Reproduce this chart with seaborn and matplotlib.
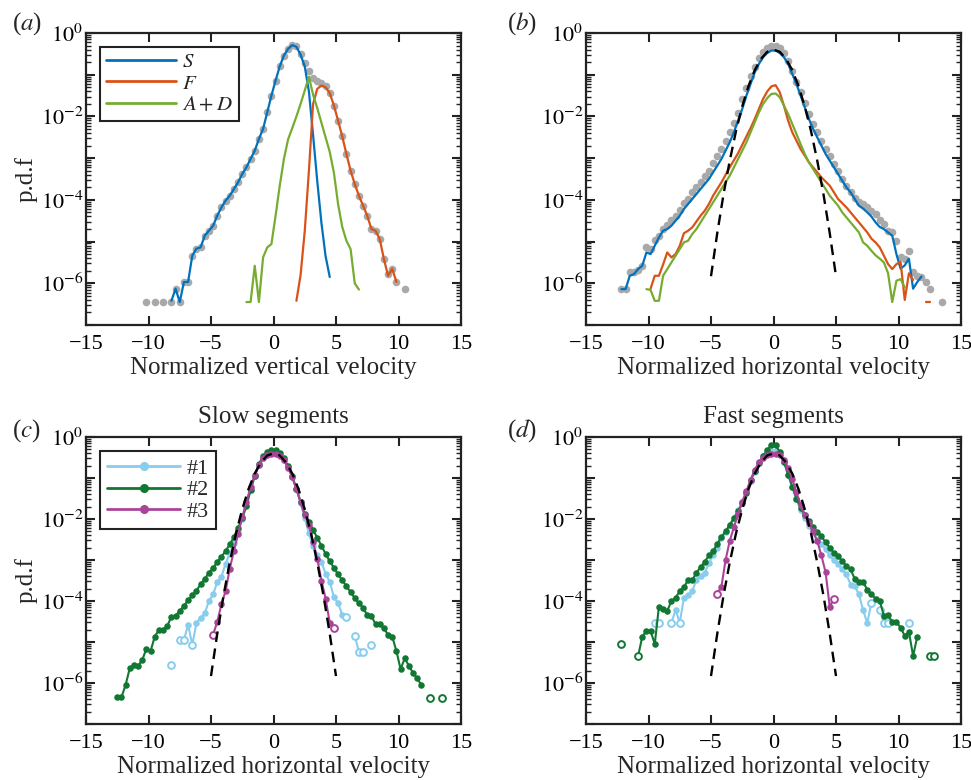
import numpy as np
import pandas as pd
import matplotlib
matplotlib.use("Agg")
import matplotlib.pyplot as plt
from matplotlib.lines import Line2D
from matplotlib.ticker import FixedLocator, FuncFormatter, LogLocator, NullFormatter
import seaborn as sns

nan = np.nan

# Histogram bins: centre of bin k is BIN_FIRST + k * BIN_WIDTH
BIN_FIRST = -12.5
BIN_WIDTH = 1.0 / 3.0

# ---------- (a) vertical velocity, log10 of p.d.f ----------
a_total_start = 7
a_total = [-6.45, nan, -6.45, nan, -6.45, nan, -6.45, -6.13, -6.45, -5.97,
           -5.97, -5.34, -5.17, -5.14, -4.86, -4.74, -4.62, -4.38, -4.18, -4.02,
           -3.90, -3.74, -3.58, -3.38, -3.22, -3.02, -2.82, -2.54, -2.30, -1.90,
           -1.50, -1.14, -0.80, -0.54, -0.38, -0.28, -0.32, -0.50, -0.72, -0.92,
           -1.08, -1.16, -1.20, -1.26, -1.44, -1.74, -2.10, -2.48, -2.90, -3.30,
           -3.62, -3.90, -4.14, -4.38, -4.70, -4.74, -4.94, -5.42, -5.78, -5.65,
           -5.97, nan, -6.14]
a_slow_start = 13
a_slow = [-6.42, -6.13, -6.45, -5.97, -5.97, -5.34, -5.17, -5.14, -4.86, -4.74,
          -4.62, -4.38, -4.18, -4.02, -3.90, -3.74, -3.58, -3.38, -3.22, -3.02,
          -2.82, -2.54, -2.30, -1.90, -1.50, -1.14, -0.80, -0.54, -0.38, -0.29,
          -0.33, -0.52, -0.80, -1.40, -2.45, -3.55, -4.55, -5.35, -5.85]
a_fast_start = 43
a_fast = [-6.42, -5.80, -4.75, -3.30, -1.70, -1.34, -1.26, -1.30, -1.44, -1.74,
          -2.10, -2.48, -2.90, -3.30, -3.62, -3.90, -4.14, -4.38, -4.70, -4.74,
          -4.94, -5.42, -5.82, -5.65, -5.97]
a_ad_start = 31
a_ad = [-6.45, -6.45, -5.58, -6.45, -5.38, -5.14, -5.06, -4.38, -3.66, -3.02,
        -2.55, -2.28, -2.00, -1.70, -1.38, -1.05, -1.48, -1.80, -2.15, -2.50,
        -2.85, -3.35, -4.10, -4.65, -4.98, -5.18, -6.00, -6.15]

# ---------- (b) horizontal velocity ----------
b_total_start = 1
b_total = [-6.13, -6.13, -5.74, -5.73, -5.68, -5.58, -5.14, -5.17, -4.96, -4.86,
           -4.69, -4.61, -4.48, -4.38, -4.24, -4.08, -3.98, -3.82, -3.70, -3.58,
           -3.44, -3.30, -3.12, -2.94, -2.78, -2.58, -2.38, -2.16, -1.92, -1.58,
           -1.33, -1.04, -0.81, -0.61, -0.46, -0.37, -0.32, -0.32, -0.37, -0.48,
           -0.66, -0.90, -1.17, -1.41, -1.68, -1.94, -2.18, -2.38, -2.58, -2.78,
           -2.96, -3.14, -3.32, -3.50, -3.66, -3.82, -3.96, -4.04, -4.10, -4.18,
           -4.27, -4.35, -4.48, -4.58, -4.75, -4.78, -4.98, -5.38, -5.42, -5.22,
           -5.73, -5.82, -5.85, -5.97, -6.14, nan, nan, -6.45]
b_slow_start = 1
b_slow = [-6.14, -6.14, -5.82, -5.78, -5.66, -5.58, -5.26, -5.30, -5.10, -4.90,
          -4.74, -4.70, -4.62, -4.50, -4.38, -4.22, -4.10, -3.98, -3.86, -3.74,
          -3.62, -3.50, -3.34, -3.18, -3.02, -2.82, -2.62, -2.38, -2.10, -1.82,
          -1.50, -1.22, -0.94, -0.74, -0.58, -0.48, -0.42, -0.42, -0.48, -0.58,
          -0.74, -0.98, -1.22, -1.50, -1.78, -2.06, -2.30, -2.50, -2.70, -2.90,
          -3.06, -3.22, -3.38, -3.54, -3.70, -3.82, -3.98, -4.14, -4.21, -4.30,
          -4.40, -4.54, -4.65, -4.70, -4.78, -4.86, -5.30, -5.65, -5.57, -5.41,
          -6.13, -5.97, -5.84]
b_fast_start = 8
b_fast = [-6.13, -5.82, -5.82, -5.55, -5.26, -5.38, -5.30, -5.10, -4.80, -4.74,
          -4.66, -4.52, -4.38, -4.26, -4.10, -3.90, -3.74, -3.58, -3.40, -3.22,
          -3.05, -2.88, -2.68, -2.48, -2.28, -2.06, -1.82, -1.58, -1.40, -1.28,
          -1.25, -1.42, -1.74, -2.10, -2.38, -2.58, -2.78, -2.94, -3.10, -3.22,
          -3.34, -3.46, -3.56, -3.66, -3.82, -3.98, -4.08, -4.18, -4.30, -4.42,
          -4.54, -4.66, -4.78, -4.93, -5.02, -5.14, -5.34, -5.54, -5.66, -5.54,
          -5.49, -6.40, -5.76, -5.92, nan, nan, -6.45, -6.45]
b_ad_start = 7
b_ad = [-6.14, -6.16, -6.42, -6.42, -5.82, -5.66, -5.50, -5.34, -5.18, -5.02,
        -4.98, -4.82, -4.70, -4.54, -4.38, -4.22, -4.06, -3.90, -3.74, -3.58,
        -3.42, -3.22, -3.02, -2.82, -2.62, -2.38, -2.14, -1.90, -1.70, -1.56,
        -1.46, -1.45, -1.54, -1.74, -1.94, -2.18, -2.42, -2.66, -2.90, -3.10,
        -3.26, -3.42, -3.58, -3.74, -3.90, -4.02, -4.14, -4.30, -4.42, -4.54,
        -4.66, -4.78, -5.02, -5.10, -5.22, -5.33, -5.41, -5.50, -5.76, -6.45,
        -5.94, -5.90, -6.10]

# ---------- reference normal distribution (log10 p.d.f) ----------
gauss_v = [-5.0, -4.5, -4.0, -3.5, -3.0, -2.5, -2.0, -1.5, -1.0, -0.5, 0.0,
           0.5, 1.0, 1.5, 2.0, 2.5, 3.0, 3.5, 4.0, 4.5, 5.0]
gauss_log = [-5.83, -4.80, -3.87, -3.06, -2.35, -1.76, -1.27, -0.89, -0.62, -0.45, -0.40,
             -0.45, -0.62, -0.89, -1.27, -1.76, -2.35, -3.06, -3.87, -4.80, -5.83]

# ---------- (c) slow segments ----------
c1_start = 13
c1 = [-5.55, nan, -4.95, -4.95, -4.58, -5.07, -4.54, -4.41, -4.30, -4.00,
      -3.84, -3.54, -3.41, -3.09, -2.85, -2.58, -2.30, -2.00, -1.65, -1.28,
      -0.95, -0.68, -0.51, -0.43, -0.40, -0.40, -0.44, -0.55, -0.72, -0.97,
      -1.28, -1.62, -1.98, -2.35, -2.66, -2.87, -3.05, -3.33, -3.54, -3.90,
      -4.06, -4.33, -4.40, nan, -4.85, -5.24, -5.24, nan, -5.07]
c1_open = [13, 15, 16, 18, 55, 57, 58, 59, 61]
c2_start = 0
c2 = [-6.35, -6.35, -6.05, -5.64, -5.56, -5.58, -5.44, -5.16, -5.22, -4.87,
      -4.70, -4.70, -4.61, -4.38, -4.36, -4.24, -4.12, -3.98, -3.86, -3.75,
      -3.59, -3.46, -3.31, -3.19, -3.05, -2.92, -2.78, -2.62, -2.44, -2.22,
      -1.98, -1.68, -1.30, -0.95, -0.66, -0.47, -0.37, -0.32, -0.32, -0.39,
      -0.52, -0.71, -0.96, -1.26, -1.58, -1.88, -2.08, -2.26, -2.46, -2.65,
      -2.85, -3.03, -3.19, -3.35, -3.49, -3.64, -3.78, -3.93, -4.06, -4.16,
      -4.35, -4.36, -4.57, -4.57, -4.66, -4.83, -4.87, -5.22, -5.66, -5.40,
      -5.58, -5.76, -5.89, -6.05, nan, -6.36, nan, nan, -6.36]
c2_open = [75, 78]
c3_start = 23
c3 = [-4.82, -4.51, -4.08, -3.76, -3.21, -2.78, -2.36, -1.96, -1.58, -1.22,
      -0.92, -0.68, -0.52, -0.44, -0.42, -0.42, -0.46, -0.57, -0.75, -0.98,
      -1.27, -1.58, -1.90, -2.14, -2.57, -2.97, -3.50, -3.94, -4.53, -4.65]
c3_open = [23, 52]

# ---------- (d) fast segments ----------
d1_start = 9
d1 = [-4.53, -4.53, nan, nan, -4.53, -4.22, -4.53, -3.92, -3.86, -3.76,
      -3.48, -3.40, -3.31, -3.08, -2.88, -2.70, -2.46, -2.32, -2.15, -1.97,
      -1.79, -1.58, -1.35, -1.08, -0.85, -0.62, -0.46, -0.37, -0.33, -0.35,
      -0.42, -0.62, -0.92, -1.22, -1.52, -1.78, -1.98, -2.16, -2.35, -2.52,
      -2.60, -2.74, -2.89, -2.99, -3.09, -3.23, -3.35, -3.60, -3.64, -3.84,
      -4.22, -4.54, -4.04, nan, -4.22, -4.54, -4.54, nan, nan, nan,
      nan, -4.53]
d1_open = [9, 10, 13, 15, 61, 63, 64, 65, 70]
d2_start = 1
d2 = [-5.05, nan, nan, nan, -5.35, -4.87, -4.73, -4.73, -5.05, -4.14,
      -4.20, -4.24, -4.00, -3.92, -3.76, -3.66, -3.49, -3.49, -3.31, -3.17,
      -3.04, -2.89, -2.79, -2.60, -2.44, -2.30, -2.14, -1.98, -1.81, -1.61,
      -1.37, -1.05, -0.84, -0.64, -0.47, -0.32, -0.19, -0.20, -0.36, -0.60,
      -0.92, -1.21, -1.50, -1.72, -1.90, -2.06, -2.20, -2.32, -2.42, -2.57,
      -2.70, -2.83, -2.91, -3.03, -3.15, -3.23, -3.46, -3.54, -3.54, -3.72,
      -3.84, -3.94, -4.00, -4.36, -4.35, -4.51, -4.51, -4.65, -4.85, -4.75,
      -5.34, -4.87, nan, nan, -5.34, -5.34]
d2_open = [1, 5, 75, 76]
d3_start = 24
d3 = [-3.82, -3.65, -3.00, -2.53, -2.20, -1.88, -1.58, -1.32, -1.05, -0.80,
      -0.62, -0.50, -0.44, -0.42, -0.42, -0.45, -0.55, -0.75, -1.02, -1.35,
      -1.65, -1.90, -2.10, -2.30, -2.54, -2.89, -3.30, -4.14, -3.95]
d3_open = [24, 52]

# ---------- styling ----------
COL_S, COL_F, COL_AD, COL_TOT = "#0072BD", "#D95319", "#77AC30", "#a9a9a9"
COL_1, COL_2, COL_3 = "#88CCEE", "#117733", "#AA4499"

sns.set_theme(style="ticks")
plt.rcParams["font.family"] = ["Liberation Serif", "DejaVu Serif"]
plt.rcParams["mathtext.fontset"] = "stix"
plt.rcParams["axes.unicode_minus"] = True


def frame(start, logs, open_bins=()):
    logs = np.asarray(logs, dtype=float)
    k = start + np.arange(len(logs))
    df = pd.DataFrame({"v": BIN_FIRST + BIN_WIDTH * k, "p": 10.0 ** logs, "bin": k,
                       "seg": np.cumsum(np.isnan(logs))})
    df["open"] = df["bin"].isin(list(open_bins))
    return df.dropna(subset=["p"]).reset_index(drop=True)


def line(ax, df, color, lw=1.6, z=3):
    sns.lineplot(data=df, x="v", y="p", units="seg", estimator=None, sort=False,
                 color=color, lw=lw, ax=ax, legend=False, zorder=z)


def dots(ax, df, color, z=4):
    full = df[~df["open"]]
    hollow = df[df["open"]]
    sns.scatterplot(data=full, x="v", y="p", color=color, s=22, linewidth=0,
                    ax=ax, legend=False, zorder=z)
    if len(hollow):
        sns.scatterplot(data=hollow, x="v", y="p", facecolor="white", edgecolor=color,
                        s=24, linewidth=1.4, ax=ax, legend=False, zorder=z)


def gauss(ax):
    g = pd.DataFrame({"v": gauss_v, "p": 10.0 ** np.asarray(gauss_log)})
    sns.lineplot(data=g, x="v", y="p", color="black", lw=1.7, sort=False,
                 estimator=None, ax=ax, legend=False, zorder=6,
                 linestyle=(0, (4.5, 2.8)))


def decade_label(val, pos):
    k = int(round(np.log10(val)))
    if k % 2 == 0 and k >= -6:
        return r"$10^{%d}$" % k
    return ""


def style_axes(ax, xlabel, ylabel=None):
    ax.set_yscale("log")
    ax.set_xlim(-15, 15)
    ax.set_ylim(1e-7, 1.0)
    ax.xaxis.set_major_locator(FixedLocator([-15, -10, -5, 0, 5, 10, 15]))
    ax.yaxis.set_major_locator(FixedLocator([10.0 ** k for k in range(-7, 1)]))
    ax.yaxis.set_major_formatter(FuncFormatter(decade_label))
    ax.yaxis.set_minor_locator(LogLocator(base=10, subs=np.arange(2, 10), numticks=20))
    ax.yaxis.set_minor_formatter(NullFormatter())
    ax.tick_params(which="both", direction="in", top=True, right=True, colors="#222222",
                   labelcolor="black", labelsize=16)
    ax.tick_params(which="major", length=6.5, width=1.5)
    ax.tick_params(which="minor", length=3.5, width=1.0)
    ax.tick_params(axis="x", pad=7)
    ax.tick_params(axis="y", pad=2)
    for sp in ax.spines.values():
        sp.set_linewidth(1.6)
        sp.set_color("#222222")
    ax.set_xlabel(xlabel, fontsize=18, labelpad=2)
    if ylabel:
        ax.set_ylabel(ylabel, fontsize=18, labelpad=2)
    else:
        ax.set_ylabel("")


fig = plt.figure(figsize=(9.71, 7.80), dpi=100)
W, H = 971.0, 780.0
ax_a = fig.add_axes([86 / W, 1 - 325 / H, 375 / W, 292 / H])
ax_b = fig.add_axes([586 / W, 1 - 325 / H, 375 / W, 292 / H])
ax_c = fig.add_axes([86 / W, 1 - 724 / H, 375 / W, 287 / H])
ax_d = fig.add_axes([586 / W, 1 - 724 / H, 375 / W, 287 / H])
for ax in (ax_a, ax_b, ax_c, ax_d):
    ax.set_yscale("log")

# (a)
tot = frame(a_total_start, a_total)
sns.scatterplot(data=tot, x="v", y="p", color=COL_TOT, s=30, linewidth=0, ax=ax_a,
                legend=False, zorder=1)
line(ax_a, frame(a_slow_start, a_slow), COL_S)
line(ax_a, frame(a_fast_start, a_fast), COL_F)
line(ax_a, frame(a_ad_start, a_ad), COL_AD)
style_axes(ax_a, "Normalized vertical velocity", "p.d.f")
leg_a = ax_a.legend(
    [Line2D([], [], color=c, lw=2) for c in (COL_S, COL_F, COL_AD)],
    [r"$S$", r"$F$", r"$A+D$"], loc="upper left", fontsize=15, frameon=True,
    fancybox=False, framealpha=1, edgecolor="#222222", handlelength=3.35,
    handletextpad=0.3, labelspacing=0.08, borderpad=0.3, borderaxespad=0.65)
leg_a.get_frame().set_linewidth(1.5)

# (b)
totb = frame(b_total_start, b_total)
sns.scatterplot(data=totb, x="v", y="p", color=COL_TOT, s=30, linewidth=0, ax=ax_b,
                legend=False, zorder=1)
line(ax_b, frame(b_slow_start, b_slow), COL_S)
line(ax_b, frame(b_fast_start, b_fast), COL_F)
line(ax_b, frame(b_ad_start, b_ad), COL_AD)
gauss(ax_b)
style_axes(ax_b, "Normalized horizontal velocity")

# (c) and (d)
for ax, sets in ((ax_c, ((c1_start, c1, c1_open, COL_1), (c2_start, c2, c2_open, COL_2),
                         (c3_start, c3, c3_open, COL_3))),
                 (ax_d, ((d1_start, d1, d1_open, COL_1), (d2_start, d2, d2_open, COL_2),
                         (d3_start, d3, d3_open, COL_3)))):
    for z, (st, vals, op, col) in enumerate(sets):
        df = frame(st, vals, op)
        line(ax, df, col, lw=1.5, z=2 + z)
        dots(ax, df, col, z=2 + z)
    gauss(ax)

style_axes(ax_c, "Normalized horizontal velocity", "p.d.f")
style_axes(ax_d, "Normalized horizontal velocity")
ax_c.set_title("Slow segments", fontsize=18, pad=10)
ax_d.set_title("Fast segments", fontsize=18, pad=10)
leg_c = ax_c.legend(
    [Line2D([], [], color=c, lw=2, marker="o", markersize=5.5) for c in (COL_1, COL_2, COL_3)],
    ["#1", "#2", "#3"], loc="upper left", fontsize=16, frameon=True, fancybox=False,
    framealpha=1, edgecolor="#222222", handlelength=3.3, handletextpad=0.3,
    labelspacing=0.05, borderpad=0.3, borderaxespad=0.65)
leg_c.get_frame().set_linewidth(1.5)

# panel letters
for x, y, s in ((12, 24, "a"), (507, 24, "b"), (12, 431, "c"), (507, 431, "d")):
    fig.text(x / W, 1 - y / H, r"($%s$)" % s, fontsize=18, ha="left", va="center")

fig.savefig("out.png", dpi=100)
